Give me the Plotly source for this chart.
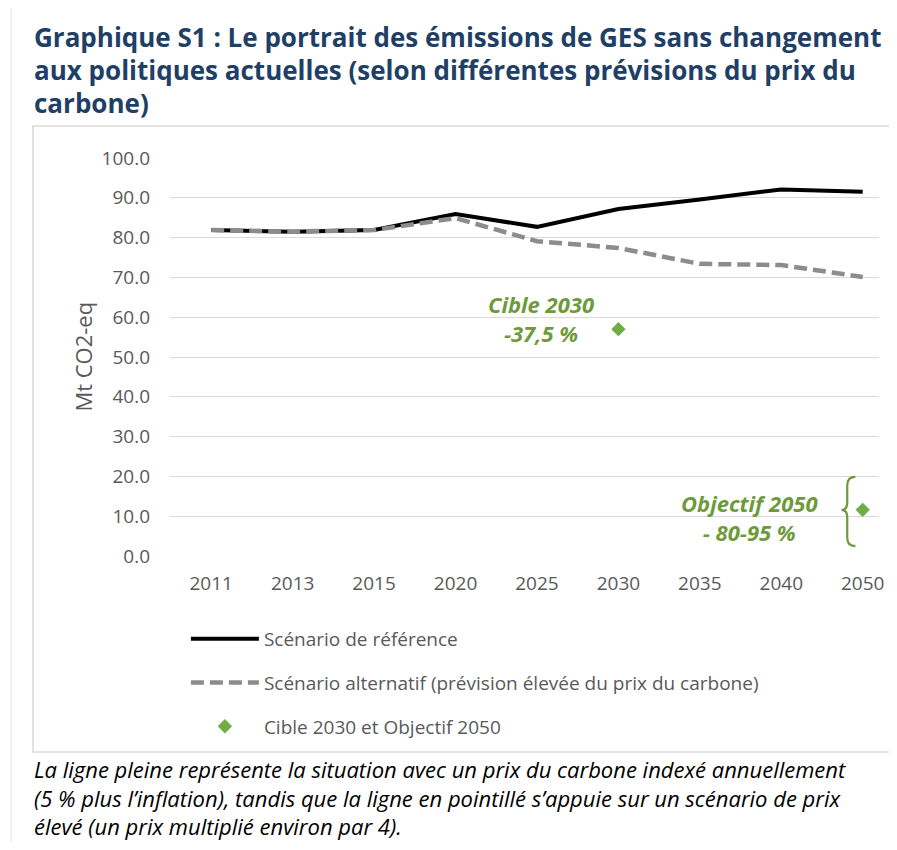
import plotly.graph_objects as go

YEARS = ["2011", "2013", "2015", "2020", "2025", "2030", "2035", "2040", "2050"]
REFERENCE = [81.9, 81.5, 81.9, 85.9, 82.7, 87.2, 89.6, 92.1, 91.5]
ALTERNATIVE = [81.9, 81.5, 81.9, 84.9, 79.1, 77.4, 73.4, 73.1, 70.1]
TARGETS = [None, None, None, None, None, 57.0, None, None, 11.6]
Y_TICKS = [0, 10, 20, 30, 40, 50, 60, 70, 80, 90, 100]

TITLE_LINES = [
    "Graphique S1 : Le portrait des émissions de GES sans changement",
    "aux politiques actuelles (selon différentes prévisions du prix du",
    "carbone)",
]
CAPTION_LINES = [
    "La ligne pleine représente la situation avec un prix du carbone indexé annuellement",
    "(5 % plus l’inflation), tandis que la ligne en pointillé s’appuie sur un scénario de prix",
    "élevé (un prix multiplié environ par 4).",
]

# the page body has an 8px margin, so the figure is kept inside it
W, H = 881, 834
L, R, T, B = 162, 5, 150, 286
PW, PH = W - L - R, H - T - B

TITLE_COLOR = "#1F3F66"
GREEN_TEXT = "#6E9A3C"
GREEN_MARK = "#70AD47"
AXIS_TEXT = "#595959"
FONT = "Open Sans, sans-serif"

x_idx = list(range(len(YEARS)))


def px_x(px):
    return (px - L) / PW


def px_y(py):
    return (H - B - py) / PH


fig = go.Figure()

fig.add_trace(
    go.Scatter(
        x=x_idx,
        y=REFERENCE,
        mode="lines",
        name="Scénario de référence",
        legendgroup="a",
        line={"color": "#000000", "width": 4},
    )
)
fig.add_trace(
    go.Scatter(
        x=x_idx,
        y=ALTERNATIVE,
        mode="lines",
        name="Scénario alternatif (prévision élevée du prix du carbone)",
        legendgroup="b",
        line={"color": "#8C8C8C", "width": 4.5, "dash": "13px,6px"},
    )
)
fig.add_trace(
    go.Scatter(
        x=x_idx,
        y=TARGETS,
        mode="markers",
        name="Cible 2030 et Objectif 2050",
        legendgroup="c",
        marker={"symbol": "diamond", "size": 11, "color": GREEN_MARK},
    )
)

annotations = []
for i, line in enumerate(TITLE_LINES):
    annotations.append(
        dict(
            text=f"<b>{line}</b>",
            xref="paper",
            yref="paper",
            x=px_x(23),
            y=px_y(29 + 33 * i),
            xanchor="left",
            yanchor="middle",
            showarrow=False,
            font={"size": 26, "color": TITLE_COLOR, "family": FONT},
        )
    )

annotations.append(
    dict(
        text="<br>".join(f"<i>{line}</i>" for line in CAPTION_LINES),
        xref="paper",
        yref="paper",
        x=px_x(23),
        y=px_y(789),
        xanchor="left",
        yanchor="middle",
        align="left",
        showarrow=False,
        font={"size": 22, "color": "#000000", "family": FONT},
    )
)

# y-axis title
annotations.append(
    dict(
        text="Mt CO2-eq",
        xref="paper",
        yref="paper",
        x=px_x(74),
        y=px_y(349),
        xanchor="center",
        yanchor="middle",
        textangle=-90,
        showarrow=False,
        font={"size": 22, "color": AXIS_TEXT, "family": FONT},
    )
)

annotations.append(
    dict(
        text="<b><i>Cible 2030</i></b><br><b><i>-37,5 %</i></b>",
        x=4.05,
        y=59.8,
        xref="x",
        yref="y",
        showarrow=False,
        align="center",
        font={"size": 22, "color": GREEN_TEXT, "family": FONT},
    )
)
annotations.append(
    dict(
        text="<b><i>Objectif 2050</i></b><br><b><i>- 80-95 %</i></b>",
        x=6.61,
        y=9.8,
        xref="x",
        yref="y",
        showarrow=False,
        align="center",
        font={"size": 22, "color": GREEN_TEXT, "family": FONT},
    )
)

shapes = [
    # outer chart frame
    dict(
        type="rect",
        xref="paper",
        yref="paper",
        x0=px_x(24),
        x1=px_x(900),
        y0=px_y(744),
        y1=px_y(118),
        line={"color": "#D9D9D9", "width": 1.5},
        layer="below",
    ),
    # page margin line
    dict(
        type="line",
        xref="paper",
        yref="paper",
        x0=px_x(2),
        x1=px_x(2),
        y0=px_y(H),
        y1=px_y(-10),
        line={"color": "#E3E3E3", "width": 1},
    ),
    # curly brace around the 2050 objective
    dict(
        type="path",
        xref="x",
        yref="y",
        path=(
            "M 7.91,19.9 Q 7.81,19.9 7.81,17.8 L 7.81,13.4 "
            "Q 7.81,11.6 7.74,11.6 Q 7.81,11.6 7.81,9.8 "
            "L 7.81,4.6 Q 7.81,2.5 7.91,2.5"
        ),
        line={"color": GREEN_TEXT, "width": 2.2},
    ),
]

fig.update_layout(
    width=W,
    height=H,
    margin={"l": L, "r": R, "t": T, "b": B},
    paper_bgcolor="white",
    plot_bgcolor="white",
    font={"family": FONT, "color": AXIS_TEXT},
    showlegend=True,
    legend={
        "x": px_x(178),
        "y": px_y(612),
        "xanchor": "left",
        "yanchor": "top",
        "orientation": "v",
        "traceorder": "grouped",
        "tracegroupgap": 16,
        "font": {"size": 19, "color": AXIS_TEXT, "family": FONT},
        "itemwidth": 68,
        "bgcolor": "rgba(0,0,0,0)",
    },
    annotations=annotations,
    shapes=shapes,
)

fig.update_xaxes(
    range=[-0.506, 8.2],
    tickvals=x_idx,
    ticktext=YEARS,
    showgrid=False,
    zeroline=False,
    showline=False,
    ticks="",
    ticklabelstandoff=14,
    ticklabeloverflow="allow",
    tickfont={"size": 19, "color": AXIS_TEXT},
)

fig.update_yaxes(
    range=[0, 100],
    tickvals=Y_TICKS,
    ticktext=[f"{v:.1f}" for v in Y_TICKS],
    showgrid=True,
    gridcolor="#D9D9D9",
    gridwidth=1.2,
    zeroline=False,
    showline=False,
    ticks="",
    ticklabelstandoff=19,
    tickfont={"size": 19, "color": AXIS_TEXT},
)

fig.write_html("out.html")
